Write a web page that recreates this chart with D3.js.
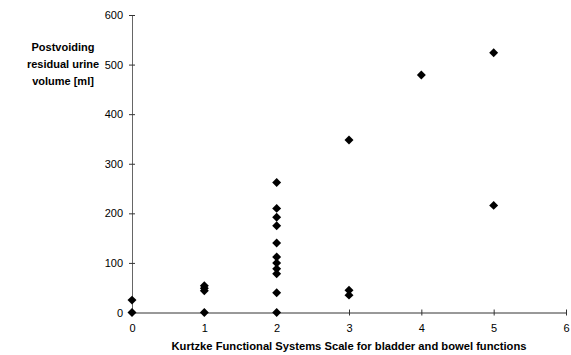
<!DOCTYPE html>
<html><head><meta charset="utf-8">
<script src="https://cdn.jsdelivr.net/npm/d3@7"></script>
<style>body{margin:0;background:#fff}text{font-family:Arial,"Liberation Sans",sans-serif}</style>
</head><body><svg id="c" width="571" height="355"></svg>
<script>
const xVals = [0,0, 1,1,1,1, 2,2,2,2,2,2,2,2,2,2,2, 3,3,3, 4, 5,5];
const yVals = [0,25, 0,44,49,54, 0,40,78,88,100,112,140,175,192,210,262, 35,45,348, 479, 524,216];
const xTicks = [0,1,2,3,4,5,6];
const yTicks = [0,100,200,300,400,500,600];
const yTitle = ["Postvoiding","residual urine","volume [ml]"];
const xTitle = "Kurtzke Functional Systems Scale for bladder and bowel functions";

const svg = d3.select("#c");
const x = d3.scaleLinear().domain([0,6]).range([132,566]);
const y = d3.scaleLinear().domain([0,600]).range([312.5,15]);

const gx = svg.append("g").attr("transform","translate(0,312.5)")
  .call(d3.axisBottom(x).tickValues(xTicks).tickSize(0).tickPadding(12).tickFormat(d3.format("d")));
gx.select(".domain").attr("stroke","#333");
gx.selectAll(".tick").append("line").attr("y1",-3).attr("y2",3).attr("stroke","#333");
gx.selectAll("text").attr("font-size",11).attr("fill","#000");

const gy = svg.append("g").attr("transform","translate(132,0)")
  .call(d3.axisLeft(y).tickValues(yTicks).tickSize(0).tickPadding(9).tickFormat(d3.format("d")));
gy.select(".domain").attr("stroke","#666");
gy.selectAll(".tick").append("line").attr("x1",-3).attr("x2",3).attr("stroke","#333");
gy.selectAll("text").attr("font-size",11).attr("fill","#000");

svg.append("g").selectAll("path").data(xVals.map((d,i)=>[d,yVals[i]])).join("path")
  .attr("d", d3.symbol().type(d3.symbolSquare).size(40))
  .attr("transform", d=>`translate(${x(d[0])},${y(d[1])}) rotate(45)`)
  .attr("fill","#000");

svg.append("text").attr("x",349).attr("y",350).attr("text-anchor","middle")
  .attr("font-size",11.2).attr("font-weight","bold").text(xTitle);

svg.append("g").selectAll("text").data(yTitle).join("text")
  .attr("x",63).attr("y",(d,i)=>51+i*17).attr("text-anchor","middle")
  .attr("font-size",11).attr("font-weight","bold").text(d=>d);
</script></body></html>
